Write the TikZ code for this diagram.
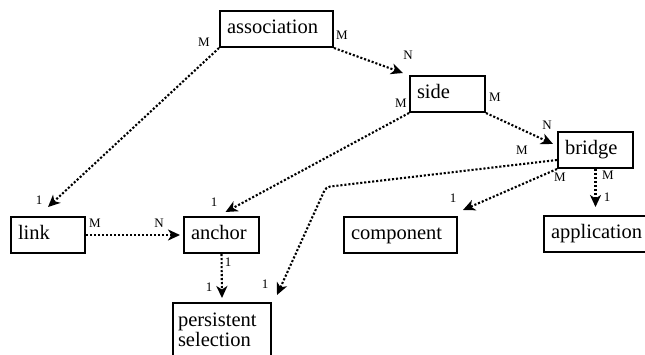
\documentclass[tikz,border=0pt]{standalone}
\usepackage{fontspec}
\setmainfont{Liberation Serif}
\newfontfamily\diagramfont{Liberation Serif}
\usetikzlibrary{arrows.meta,calc}

\tikzset{
  entity/.style={draw, line width=2pt, anchor=north west, inner xsep=7pt, inner ysep=0pt,
    minimum height=36pt, text height=14pt, text depth=4.5pt, align=left,
    font=\fontsize{20.5}{20}\selectfont\diagramfont},
  rel/.style={line width=2.1pt, dash pattern=on 2.1pt off 1.9pt,
    -{Stealth[length=12pt, width=11pt, inset=3.5pt]}},
  card/.style={inner sep=0pt, font=\fontsize{13}{13}\selectfont\diagramfont},
}

\begin{document}
\begin{tikzpicture}[x=1pt, y=-1pt]
  \useasboundingbox (0,0) rectangle (645,354);

  % entities
  \node[entity, text width=99pt] (assoc) at (219,10) {\diagramfont association};
  \node[entity, text width=61pt] (side) at (409,75) {\diagramfont side};
  \node[entity, text width=61pt] (bridge) at (557,131) {\diagramfont bridge};
  \node[entity, text width=60pt] (link) at (10,216) {\diagramfont link};
  \node[entity, text width=61pt] (anchor) at (183,216) {\diagramfont anchor};
  \node[entity, text width=99pt] (component) at (343,216) {\diagramfont component};
  \node[entity, text width=98pt] (application) at (543,215) {\diagramfont application};
  \node[entity, text width=88pt, inner xsep=5pt, minimum height=56pt, text height=14pt,
        text depth=24pt] (persist) at (172,302) {\diagramfont persistent\\\diagramfont selection};

  \coordinate (bend) at (326,187);

  % relationships
  \draw[rel] (assoc.south west) -- ([yshift=9pt]link.north);
  \draw[rel] (assoc.south east) -- ([xshift=-6pt,yshift=2pt]side.north west);
  \draw[rel] (side.south west) -- ([xshift=4pt,yshift=4pt]anchor.north);
  \draw[rel] (side.south east) -- ([xshift=-4pt,yshift=6pt]bridge.west);
  \draw[rel, rounded corners=4pt] ([yshift=-10pt]bridge.west) -- (bend)
        -- ([xshift=5pt,yshift=7pt]persist.north east);
  \draw[rel] (bridge.south west) -- ([xshift=5pt,yshift=6pt]component.north east);
  \draw[rel] (bridge.south) -- ($(bridge.south |- application.north)+(0,-8)$);
  \draw[rel] (link.east) -- ([xshift=-3pt]anchor.west);
  \draw[rel] (anchor.south) -- ([yshift=4pt]persist.north);

  % cardinalities
  \node[card] (c1) at (204,42) {M};
  \node[card] (c2) at (39,200) {1};
  \node[card] (c3) at (342,35) {M};
  \node[card] (c4) at (408,55) {N};
  \node[card] (c5) at (401,103) {M};
  \node[card] (c6) at (214,202) {1};
  \node[card] (c7) at (495,97) {M};
  \node[card] (c8) at (547,125) {N};
  \node[card] (c9) at (522,150) {M};
  \node[card] (c10) at (265,284) {1};
  \node[card] (c11) at (560,177) {M};
  \node[card] (c12) at (453,198) {1};
  \node[card] (c13) at (608,175) {M};
  \node[card] (c14) at (607,197) {1};
  \node[card] (c15) at (95,223) {M};
  \node[card] (c16) at (159,223) {N};
  \node[card] (c17) at (228,262) {1};
  \node[card] (c18) at (209,287) {1};
\end{tikzpicture}
\end{document}
